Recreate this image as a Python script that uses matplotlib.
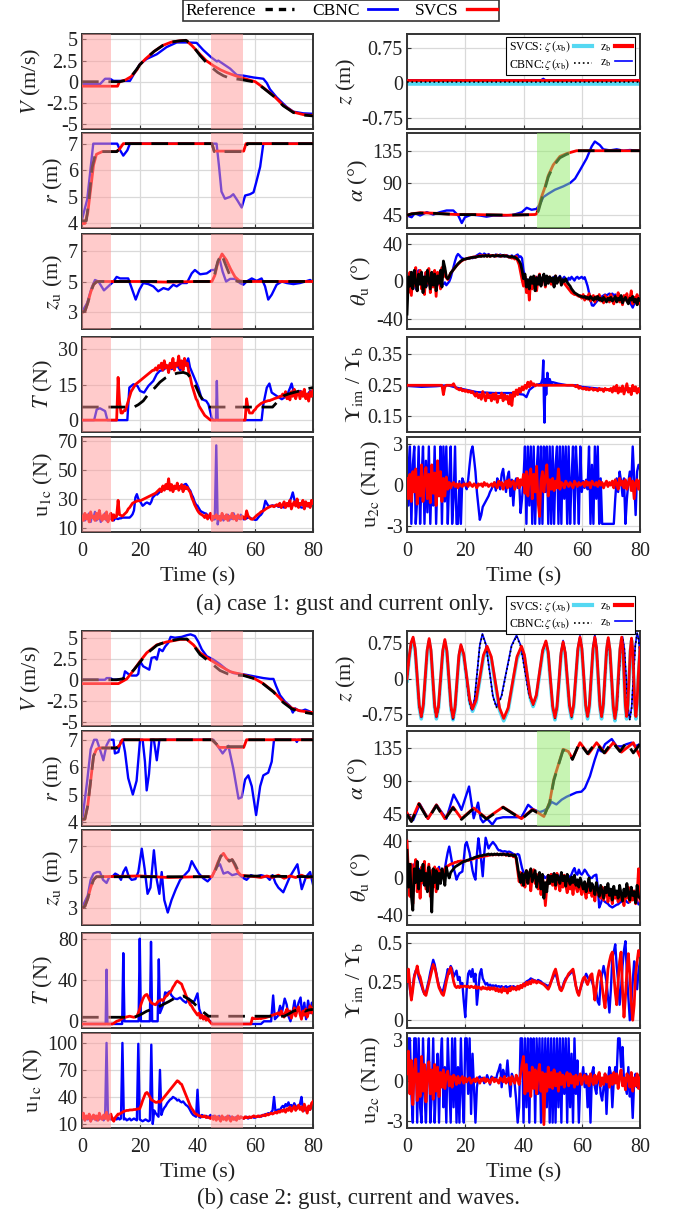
#!/usr/bin/env python3
import numpy as np
import matplotlib
matplotlib.use('Agg')
import matplotlib.pyplot as plt
from matplotlib.lines import Line2D
from matplotlib.ticker import FuncFormatter

plt.rcParams['font.family'] = ['Liberation Serif', 'DejaVu Serif']
plt.rcParams['mathtext.fontset'] = 'stix'
plt.rcParams['axes.unicode_minus'] = False

# Values. Knot series are (time, value) pairs,
# noisy series are sampled every 0.5 s starting at t = 0.

# ================= case 1: gust and current only =================
Va_ref = [(0, 0.0), (13, 0.0), (15, 0.15), (17, 0.6), (19, 1.5), (20, 2.0), (22, 2.7), (25, 3.6),
          (28, 4.3), (31, 4.7), (34, 4.85), (36, 4.9), (38, 4.4), (40.9, 3.1), (43, 2.3), (44.7, 1.75),
          (47, 1.1), (49, 0.7), (51.3, 0.4), (54, 0.3), (56, 0.2), (60, -0.05), (62.8, -0.75),
          (66.3, -1.7), (69.7, -2.85), (73.2, -3.65), (76.7, -3.95), (80, -4.05)]
Va_cbnc = [(0, -0.3), (6.2, -0.3), (8, 0.35), (9.7, 0.35), (10.9, 0.1), (16.6, 0.1), (17.8, 0.8),
           (20.1, 2.1), (22.4, 2.7), (25.9, 3.25), (29.3, 4.1), (32.8, 4.65), (36.3, 4.65), (39.7, 4.6),
           (42, 3.75), (44.7, 2.9), (46.7, 2.4), (47.2, 2.5), (51.3, 1.55), (53.6, 0.8), (55.9, 0.72),
           (59.4, 0.5), (62.8, 0.35), (64, -0.15), (65.1, -0.9), (67.4, -1.85), (70.9, -3.0),
           (73.2, -3.55), (76.7, -3.75), (80, -3.8)]
Va_svcs = [(0, -0.53), (12.3, -0.53), (13, 0.0), (15, 0.2), (17, 0.6), (19, 1.4), (20, 2.0), (22, 2.7),
           (25, 3.6), (28, 4.3), (31, 4.7), (34, 4.85), (36, 4.9), (38, 4.3), (41, 3.2), (43, 2.5),
           (45.5, 1.9), (48, 1.4), (50, 1.1), (52.4, 0.8), (55.3, 0.45), (58, 0.2), (60, 0.0),
           (62.8, -0.7), (66.3, -1.65), (69.7, -2.8), (73.2, -3.6), (76.7, -3.9), (80, -4.0)]

ra_ref = [(0, 4.1), (1.5, 4.1), (2.5, 5.0), (3.5, 6.1), (4.5, 6.55), (6, 6.7), (12, 6.7), (13, 6.8),
          (14.3, 7.0), (45, 7.0), (45.8, 6.7), (56.3, 6.7), (57.3, 7.0), (80, 7.0)]
ra_cbnc = [(0, 4.15), (1.8, 4.9), (2.8, 5.9), (3.9, 7.0), (12.2, 7.0), (13.2, 6.75), (14.3, 6.55),
           (15.7, 6.75), (16.6, 7.0), (46.6, 7.0), (47.4, 6.2), (48.3, 5.2), (49.5, 4.93), (51.3, 5.0),
           (52.4, 5.1), (53.8, 4.87), (55.3, 4.6), (56.5, 5.05), (58.2, 5.1), (59.4, 5.17), (60.3, 5.53),
           (61.7, 6.13), (62.8, 7.0), (80, 7.0)]
ra_svcs = [(0, 4.0), (1, 4.0), (2, 4.4), (3, 5.3), (4, 6.2), (5, 6.6), (7, 6.7), (12, 6.7), (13, 6.8),
           (14.3, 7.0), (45, 7.0), (45.8, 6.72), (56, 6.72), (56.8, 7.0), (80, 7.0)]

zua_ref = [(0, 3.0), (1, 3.05), (2, 3.6), (3, 4.3), (4, 4.8), (5, 4.98), (6, 5.0), (45, 5.0), (46, 5.5),
           (47, 6.3), (48.3, 6.8), (49.5, 6.2), (51, 5.5), (52.5, 5.1), (54, 5.0), (80, 5.0)]
zua_cbnc = [(0, 3.0), (1.8, 3.6), (3.3, 4.57), (4.5, 5.1), (5.7, 5.0), (7.6, 4.42), (9.1, 4.68),
            (10.9, 5.0), (12, 5.3), (13.2, 5.2), (14.5, 5.2), (16, 5.2), (17.2, 4.57), (18.6, 3.82),
            (19.9, 4.47), (21.2, 4.9), (23, 4.83), (24.7, 4.68), (26.4, 4.36), (28.2, 4.57), (29.9, 4.47),
            (31.6, 4.79), (32.8, 4.68), (34.5, 4.9), (36.3, 4.9), (38, 5.53), (39.1, 5.75), (40.9, 5.47),
            (43.2, 5.53), (44.9, 5.75), (46.1, 5.75), (47.6, 6.5), (48.7, 5.64), (49.9, 5.0), (51.3, 5.17),
            (53, 5.17), (54.7, 4.9), (55.9, 4.79), (57, 5.0), (58.8, 5.2), (60.5, 5.04), (62.2, 5.2),
            (63.4, 4.68), (64.5, 3.82), (65.7, 4.14), (67.4, 4.79), (69.2, 5.0), (70.9, 4.9), (73.2, 4.83),
            (75.5, 4.9), (77.3, 5.0), (79, 5.1), (80, 4.96)]
zua_svcs = [(0, 3.0), (1, 3.05), (2, 3.6), (3, 4.3), (4, 4.8), (5, 4.98), (6, 5.0), (20, 5.0), (30, 4.96),
            (40, 5.0), (45, 5.0), (46, 5.4), (47, 6.2), (48.5, 6.8), (50, 6.4), (51.5, 5.8), (53, 5.3),
            (54.5, 5.05), (56, 5.0), (80, 5.0)]

Ta_ref = [(0, 5.5), (18, 5.5), (19.5, 6.5), (21.2, 8.1), (23, 11), (25.3, 13.7), (27, 16), (28.8, 17.7),
          (31, 19), (33, 19.8), (35.1, 20.1), (36.5, 19.5), (38, 17.3), (39.5, 14), (40.9, 10.2),
          (42.5, 7.5), (43.8, 5.5), (66, 5.5), (67.5, 7.5), (69.7, 10.2), (71.5, 11), (73.2, 11.6),
          (76, 12.5), (78, 13.2), (80, 13.7)]
Ta_cbnc = [(0, 0), (4.2, 0), (5.1, 4.5), (6.2, 5), (8, 3.8), (8.8, 0), (15.7, 0), (16.4, 13.7),
           (17.8, 15.1), (19.2, 14.4), (20.1, 12.3), (21.5, 11.6), (23, 14.4), (24.7, 16.5), (25.9, 19.4),
           (27, 20.8), (28, 21), (29, 22), (30, 23), (31, 21.5), (32, 22), (33, 23), (34, 21), (35, 22),
           (36, 24), (36.8, 26), (37.4, 22.2), (38.6, 18.7), (40.3, 13.7), (41.5, 8.8), (43, 8.1),
           (43.8, 6.6), (44.9, 1), (45.5, 0), (46.4, 0), (46.7, 16.5), (47, 0), (62.2, 0), (62.8, 6.6),
           (64, 13.7), (64.9, 15.4), (65.7, 11.6), (67.4, 10.2), (69.2, 8.8), (70.9, 10.2), (72.1, 13.7),
           (72.6, 15.4), (73.2, 12.3), (74.4, 10.9), (75.5, 12.3), (76.7, 10.9), (77.8, 10.2),
           (79, 12.3), (80, 11.6)]
Ta_svcs = [0] * 20 + [
    0, 0, 0, 0, 0, 18, 8, 3, 3, 4, 4, 6, 8, 10, 12, 13, 14, 15, 15.5, 16,
    16.5, 17, 17.5, 18, 18.5, 19, 19.5, 20, 20.5, 21, 21, 22, 21, 23, 22, 24, 21, 25, 22, 23,
    20, 24, 22, 26, 21, 24, 23, 27, 22, 25, 21, 26, 23, 24, 20, 18, 15, 13, 11, 9,
    8, 6, 5, 4, 3, 2, 1.5, 1, 0.5, 0, 0, 0, 0, 0, 0, 0, 0, 0, 0, 0,
    0, 0, 0, 0, 0, 0, 0, 0, 0, 0, 0, 0, 0, 0, 9, 5, 3, 3, 3, 4,
    4.5, 5.5, 6, 6.5, 7, 7.3, 7.6, 7.8, 8, 8.2, 8.2, 8.5, 8.7, 9, 9.2, 9.4, 9.6, 10, 10, 11,
    10, 12, 9, 11, 8.5, 12, 10, 13, 9, 11, 12, 9, 12, 10, 13, 9, 11, 8, 12, 10,
    13]

u1ca_cbnc = [
    17, 19, 15, 18, 16, 20, 14, 18, 17, 21, 15, 17, 19, 14, 18, 16, 20, 15, 18, 17,
    16, 19, 15, 17, 16.3, 16, 16.5, 16.5, 17, 17, 17, 17, 17, 17, 18, 19.3, 22, 31, 33.3, 30,
    28.7, 27, 25.2, 26, 27, 27.5, 27, 26.3, 28, 31, 32, 33.3, 33, 34, 35, 36, 37, 36.5, 37, 38,
    37, 36.9, 38, 37, 38, 37.5, 38, 39, 38, 37, 39, 40, 40.4, 39, 37, 35.7, 33, 31, 28, 26,
    25.2, 23.5, 21.7, 21, 20.5, 20, 19.8, 18.5, 17, 17.5, 16, 15.8, 15.8, 67.2, 12.3, 18, 16, 19, 15, 18,
    17, 19, 15, 18, 16, 20, 17, 15, 18, 16, 19, 17, 15.8, 16, 16.5, 17, 17, 16.5, 16, 15.8,
    15.4, 15.6, 17, 18.2, 19, 20.5, 24, 28.7, 27, 25.2, 25, 25.2, 25.5, 25.2, 25, 25.5, 24.5, 24.8, 24, 24.5,
    24, 24.5, 25, 26, 28.7, 31, 34.5, 30, 26.3, 25, 24.5, 24.5, 24, 24, 24.5, 25, 25.2, 24.8, 25.2, 26.5,
    27.5]
u1ca_svcs = [
    18, 15, 20, 16, 19, 14, 21, 17, 18, 15, 20, 16, 22, 17, 15, 19, 16, 21, 14, 18,
    20, 15, 19, 17, 18, 29, 19, 18.5, 18, 19, 20, 21, 23, 24, 25.5, 27, 27.5, 28, 28.5, 28.7,
    28.7, 29, 29.5, 30, 30.5, 31, 31.5, 32, 32.5, 33, 33.5, 34, 35, 36, 37, 35, 39, 36, 40, 37,
    44, 36, 40, 35, 39, 37, 41, 36, 38, 40, 35, 39, 37, 38, 36, 34.5, 31, 28.7, 26, 24,
    22, 20.5, 19.5, 19, 18.2, 17, 19, 16, 18, 20, 15, 18, 17, 19, 16, 18, 15, 20, 17, 16,
    19, 15, 18, 17, 20, 16, 18, 15, 19, 17, 16, 18, 17, 16, 21.7, 18.2, 17, 16, 15.8, 16.5,
    17.5, 18.5, 19.3, 20, 21, 21.5, 22, 22.8, 23.5, 24, 24.5, 25, 25.2, 24.5, 25.5, 26, 25, 27, 24, 26,
    28, 24, 27, 25, 29, 23, 26, 28, 25, 30, 24, 27, 26, 29, 23, 28, 25, 27, 24, 29,
    27]

za_zeta_svcs = [(0, 0.0), (80, 0.0)]
za_zb_svcs = [(0, 0.07), (80, 0.07)]
za_zeta_cbnc = [(0, 0.02), (80, 0.02)]
za_zb_cbnc = [(0, 0.07), (46, 0.07), (46.8, 0.1), (47.5, 0.07), (80, 0.07)]

alpha_a_ref = [(0, 44), (1.6, 46), (4.5, 47), (10.2, 46.5), (17, 45), (22.8, 44.8), (34.2, 44.2),
               (43.9, 44.8), (44.5, 45.5), (45.1, 50), (46.2, 66), (47.4, 82), (48.5, 98), (50.2, 113),
               (52.5, 125), (54.8, 130), (56.5, 132), (58.2, 135), (80, 135)]
alpha_a_svcs = [(0, 44), (1.6, 46), (4.5, 47.6), (10.2, 46.7), (17, 45), (22.8, 45), (34.2, 44),
                (43.9, 45), (44.5, 46), (45.1, 53), (46.2, 70), (47.4, 84), (48.5, 100), (50.2, 115),
                (52.5, 127), (54.8, 131), (56.5, 133), (58.2, 135), (80, 135)]
alpha_a_cbnc = [(0, 43.6), (1.6, 41.2), (2.7, 47), (4.5, 43.6), (6.8, 48.3), (9, 45), (11.3, 48.3),
                (13.6, 50.7), (15.9, 50.7), (17.6, 43.6), (18.8, 33), (19.9, 41.2), (22.2, 45),
                (25.1, 43.6), (27.3, 42), (29.6, 43.6), (33.1, 43.6), (36.5, 44.5), (39.4, 48.3),
                (41.1, 54.5), (42.8, 51.7), (44.5, 53), (45.7, 60), (46.8, 69.6), (48.5, 74.3), (50.8, 80),
                (53.7, 84.8), (56, 89.5), (57.7, 95.7), (59.4, 107.6), (61.7, 124.3), (63.4, 141),
                (64.5, 148), (66.2, 143), (67.4, 137), (69.7, 135.5), (72, 137), (74.3, 135), (76.5, 136),
                (80, 135)]

tha_ref = [
    -35, 5, -5, 10, -8, 12, 0, -10, 8, -3, 10, -12, 5, -6, 12, 2, -8, 10, -4, 8,
    -10, 6, -2, 12, -6, 22, 15, 5, 3, 5, 9, 11, 13, 15, 17, 19, 20.5, 22, 23, 24,
    24, 24.5, 25, 25, 25.5, 26, 26, 26, 26.5, 27, 27, 27, 27.5, 27, 28, 27, 28, 27, 27.5, 28,
    27, 28, 27.5, 28, 27, 27.5, 28, 27, 27.5, 27, 26.5, 26, 27, 26, 26, 25, 24, 22, 19, 12,
    3, 8, -6, 2, -8, 5, -2, 6, -10, 4, -3, 7, -5, 3, 8, -4, 6, -2, 5, 0,
    4, -6, 6, -2, 3, 5, -4, 2, 0, 3, -1, -3, -5, -8, -10, -12, -13, -14, -15, -16,
    -16, -17, -16, -18, -17, -19, -16, -18, -20, -17, -19, -16, -20, -18, -21, -17, -19, -22, -18, -20,
    -17, -21, -19, -16, -22, -18, -20, -15, -23, -19, -17, -21, -24, -18, -20, -16, -22, -19, -25, -18,
    -20]
tha_svcs = [
    2, -12, 10, -15, 8, -5, 15, -10, 5, 12, -8, 3, -14, 10, -2, 14, -12, 6, -6, 12,
    -16, 10, 4, -8, 15, 5, 12, 4, 2, 6, 9, 11, 13, 15, 17, 18.5, 20, 21.5, 22.5, 23.5,
    24, 24.5, 25, 25.5, 25.5, 26, 26.5, 26, 27, 27, 28, 27, 28, 27.5, 28, 27, 28.5, 27, 28, 27.5,
    28, 27, 28.5, 27.5, 28, 27, 28, 27.5, 28, 27, 26, 27, 25, 26, 24, 27, 22, 18, 10, 2,
    -5, 6, -12, 0, -20, 4, -8, 2, 5, -10, 3, 8, -4, 2, 6, -6, 3, 0, 5, -3,
    3, -5, 6, -1, 2, 4, -3, 1, -2, -4, -6, -8, -10, -12, -13, -14, -14, -15, -16, -15,
    -18, -14, -20, -16, -19, -13, -21, -17, -15, -22, -16, -19, -14, -21, -18, -23, -15, -20, -17, -22,
    -14, -20, -24, -16, -19, -12, -22, -18, -25, -15, -20, -13, -23, -19, -10, -24, -17, -21, -14, -24,
    -18]
tha_cbnc = [
    0, 8, -5, 10, -3, 6, -8, 5, 12, -2, 8, -6, 4, 10, -4, 6, -2, 8, -5, 3,
    6, -4, 2, 0, -2, -3, -1, -4, -2, 0, 4, 10, 16, 22, 27, 29.5, 28, 26, 25, 24,
    24, 25, 24.5, 25, 26, 25, 26, 27, 28, 29, 30, 29, 28, 30, 29, 28, 29.5, 28, 27.5, 28,
    27, 29, 28, 27, 29, 28, 27, 28.5, 27, 28, 26, 27, 28, 26, 27, 28, 29, 26, 27, 25,
    12, 5, 0, 2, -3, 4, 1, 3, -2, 5, 0, 2, 4, -1, 3, 5, 2, 0, 4, 1,
    3, 5, 0, 4, 2, 6, 1, 3, 5, 2, 0, 4, 2, 5, 3, 1, 4, 5, 3, 4,
    5, 3, 4.6, 0, -5, -12, -20, -25.6, -26, -24, -22, -20, -18, -17, -16, -15, -14, -15, -14, -13,
    -14, -13, -15, -14, -16, -15, -17, -16, -18, -17, -19, -20, -18, -22, -25, -28, -24, -22, -20, -19,
    -18]

ya_svcs = [0.25] * 20 + [
    0.25, 0.25, 0.25, 0.25, 0.25, 0.22, 0.245, 0.25, 0.25, 0.25, 0.25, 0.25, 0.255, 0.245, 0.24, 0.238, 0.235, 0.24, 0.232, 0.235,
    0.23, 0.234, 0.228, 0.232, 0.226, 0.23, 0.222, 0.215, 0.225, 0.21, 0.22, 0.205, 0.23, 0.215, 0.2, 0.225, 0.21, 0.218, 0.2, 0.222,
    0.205, 0.225, 0.195, 0.215, 0.21, 0.225, 0.2, 0.22, 0.205, 0.215, 0.19, 0.22, 0.185, 0.228, 0.215, 0.235, 0.22, 0.24, 0.228, 0.245,
    0.235, 0.25, 0.24, 0.26, 0.245, 0.262, 0.25, 0.255, 0.248, 0.252, 0.25, 0.25, 0.25, 0.25, 0.25, 0.25, 0.25, 0.25, 0.25, 0.25,
    0.25, 0.25, 0.25, 0.25, 0.25, 0.25, 0.25, 0.25, 0.25, 0.25, 0.25, 0.25, 0.25, 0.25, 0.25, 0.248, 0.245, 0.25, 0.24, 0.245,
    0.24, 0.238, 0.242, 0.236, 0.24, 0.235, 0.238, 0.24, 0.234, 0.238, 0.236, 0.232, 0.24, 0.235, 0.238, 0.23, 0.24, 0.235, 0.237, 0.233,
    0.24, 0.228, 0.245, 0.232, 0.25, 0.225, 0.242, 0.23, 0.248, 0.222, 0.238, 0.255, 0.228, 0.24, 0.22, 0.25, 0.232, 0.245, 0.225, 0.24,
    0.23]
ya_cbnc = [(0, 0.248), (5, 0.245), (10, 0.247), (14, 0.25), (18, 0.24), (24, 0.228), (30, 0.225),
           (36, 0.225), (40, 0.22), (41, 0.212), (42, 0.235), (44, 0.25), (46, 0.255), (46.5, 0.27),
           (46.8, 0.33), (47.0, 0.2), (47.2, 0.13), (47.5, 0.27), (47.8, 0.22), (48.2, 0.29), (48.6, 0.25),
           (49.0, 0.27), (49.5, 0.255), (50, 0.26), (52, 0.255), (55, 0.25), (58, 0.25), (60, 0.245),
           (65, 0.24), (70, 0.235), (75, 0.235), (80, 0.235)]

u2a_cbnc = [
    2.85, -1.5, 2.85, -2.85, 1.5, 2.85, -2.85, -1, 2.85, -2.85, 0.5, 2.85, -2.85, 1.8, -2, 2.85, -2.85, 0.8, -1.5, 2.85,
    -2.85, 1, -0.5, 2.85, -2.85, 2.85, -1.2, 2.85, -2.85, 0.5, 2.85, -2.85, -1, 2.85, -2.85, -2.85, 0.3, -2.85, 0.5, 0.2,
    0, -0.3, 0.4, 1.5, 2.5, 2.85, 2.0, 1.0, -0.5, -1.5, -2.55, -2.2, -1.6, -1.4, -1.2, -1.0, -0.8, -0.5, -0.3, 0,
    0.2, -0.4, 0.5, 0.2, -0.3, 0.8, 1.2, 0.3, -0.5, 0.6, 1.0, -0.8, 0.4, -1.5, 0.2, 0.5, -0.2, 0.3, -2.05, -1.0,
    0.5, 2.85, -2.85, 2.85, -1.5, 2.85, -2.85, 2.85, -2.85, 1.0, 2.85, -2.85, 2.85, -2.85, 2.85, -0.5, 2.85, -2.85, 2.85, -2.85,
    2.85, -2.85, 1.5, 2.85, -2.85, 2.85, -2.85, 2.85, -1.0, 2.85, -2.85, 2.85, -2.85, 0.5, 2.85, -2.85, 2.85, 0.5, -2.85, 2.85,
    -0.5, 0.3, -0.2, 0.4, -0.3, 2.85, -2.85, 1.5, -2.85, 2.85, -1.0, 2.85, -2.85, 0.5, -2.85, -2.85, -2.85, -2.85, -2.85, -2.85,
    -2.85, -2.85, -2.85, -1.0, 0.5, -0.5, 1.0, 0.3, -0.8, 0.5, -2.85, -1.0, 0.2, 1.0, 0.0, 2.85, 0.5, -2.2, 1.0, 1.5,
    1.2]
u2a_svcs = [
    0.5, -1.0, 0.8, -1.2, 1.0, -0.5, 1.2, -1.4, 0.6, -0.8, 1.5, -1.2, 0.4, 1.3, -1.0, 0.8, -1.3, 1.5, -0.6, 0.9,
    -1.5, 1.8, -0.8, 1.0, -1.2, 0.5, -0.8, 0.6, -0.3, 0.2, -0.2, 0.1, 0.2, -0.1, 0.1, -0.2, 0.1, 0.0, -0.1, 0.1,
    0.0, 0.1, -0.1, 0.2, 0.0, -0.1, 0.1, 0.0, -0.2, 0.1, 0.0, 0.1, -0.1, 0.2, 0.0, 0.1, -0.1, 0.0, 0.1, -0.1,
    0.2, 0.0, -0.2, 0.3, 0.0, 0.2, -0.3, 0.1, 0.3, -0.2, 0.4, -0.1, 0.2, 0.3, -0.3, 0.1, 0.5, -0.2, 0.4, 0.0,
    0.8, -0.6, 1.0, -0.8, 0.6, 1.2, -1.0, 0.8, -0.5, 1.4, -1.2, -2.3, 0.3, 1.0, -0.5, 0.6, 1.5, -0.8, 0.4, -0.3,
    0.5, -0.4, 0.3, -0.2, 1.2, -0.3, 0.2, 0.1, -0.2, 0.3, 0.1, -0.1, 0.2, 0.0, -0.2, 0.3, 0.1, -0.1, 0.2, 0.0,
    0.1, 0.2, -0.1, 0.3, 0.0, 0.2, -0.2, 0.3, 0.1, 0.0, 0.2, -0.1, 0.3, 0.0, 0.2, -0.2, 0.1, 0.3, -0.1, 0.2,
    0.0, 0.3, -0.2, 0.4, 0.1, -0.3, 0.5, 0.0, 0.3, -0.2, 0.4, -0.3, 0.2, 0.5, -0.4, 0.3, -1.0, 0.2, 0.4, -0.3,
    0.3]

# ================= case 2: gust, current and waves =================
Vb_ref = [(0, 0.0), (12, 0.0), (14, 0.1), (16, 0.5), (18, 1.2), (20.1, 2.1), (22.4, 3.1), (25.9, 4.1),
          (29.3, 4.55), (34, 4.85), (36.3, 4.85), (38.6, 4.1), (40.9, 3.0), (44.3, 2.1), (47.8, 1.1),
          (50.5, 0.7), (53, 0.55), (56, 0.5), (60, 0.1), (62.8, -0.5), (66.3, -1.45), (69.7, -2.7),
          (72.6, -3.45), (75.5, -3.8), (80, -4.05)]
Vb_cbnc = [(0, 0), (8, 0), (8.5, 0.2), (9.7, 0.2), (10.9, 0), (14.3, 0.1), (14.9, 1.0), (16, 0.7),
           (17.2, 0.5), (18.9, 0.5), (19.5, 0.7), (20.1, 2.2), (21.2, 1.6), (23.3, 1.2), (24.1, 2.6),
           (25.3, 2.7), (25.9, 2.4), (26.8, 3.65), (27.9, 3.4), (28.8, 3.95), (29.9, 4.4), (30.7, 5.1),
           (32.2, 5.0), (34.5, 5.1), (36.3, 5.3), (37.6, 5.4), (39.1, 5.2), (40.3, 4.5), (41.5, 3.6),
           (43.2, 2.8), (45.5, 2.4), (47.8, 1.85), (50.1, 1.2), (52.4, 0.8), (54.7, 0.7), (57, 0.58),
           (59.4, 0.42), (62.8, 0.2), (65.1, 0.1), (66.3, 0.1), (67.2, -0.73), (68.6, -1.85), (70.3, -2.6),
           (72.1, -3.15), (73, -3.9), (73.8, -3.4), (74.9, -3.65), (76.1, -3.7), (77.3, -3.55),
           (78.4, -3.7), (79.6, -3.9), (80, -4.0)]
Vb_svcs = [(0, -0.46), (12.6, -0.46), (15.5, 0.1), (17.8, 1.1), (20.1, 2.2), (22.4, 3.2), (25.9, 4.15),
           (29.3, 4.5), (34, 4.8), (36.3, 4.8), (38.6, 4.15), (40.9, 3.2), (44.3, 2.4), (47.8, 1.65),
           (51.3, 0.96), (55.9, 0.58), (59.4, 0.2), (62.8, -0.46), (66.3, -1.4), (69.7, -2.6),
           (72.6, -3.35), (75.5, -3.7), (80, -3.9)]

rb_ref = [(0, 4.1), (1, 4.1), (2, 4.6), (3, 5.5), (4, 6.4), (5, 6.65), (6, 6.7), (12, 6.7), (13, 6.8),
          (14, 7.0), (45, 7.0), (46.5, 6.85), (48, 6.75), (56, 6.75), (57, 7.0), (80, 7.0)]
rb_cbnc = [(0, 4.0), (1.8, 5.5), (3, 6.65), (4.2, 7), (5.1, 7), (6.2, 6.65), (7.4, 6.25), (8.5, 6.8),
           (9.5, 7), (10.9, 7), (11.4, 6.5), (12.6, 6.55), (13.4, 6.95), (14.1, 7), (14.9, 6.55), (16, 5.6),
           (17.6, 5.0), (18.9, 5.5), (20.1, 7), (21, 7), (21.8, 6.2), (22.4, 5.15), (23.2, 5.75), (24.1, 7),
           (24.9, 7), (25.9, 6.25), (26.8, 7), (45.5, 7), (48.7, 6.5), (50.7, 6.78), (52.4, 5.95),
           (54.2, 4.85), (55.3, 4.9), (56.5, 5.55), (57.6, 5.7), (58.8, 5.3), (60.3, 4.25), (61.7, 5.3),
           (62.8, 5.7), (64.5, 5.8), (65.7, 6.2), (66.5, 7), (74, 7), (74.4, 6.92), (74.8, 7), (80, 7)]
rb_svcs = [(0, 4.1), (1, 4.1), (2, 4.6), (3, 5.5), (4, 6.4), (5, 6.65), (6, 6.7), (12, 6.7), (13, 6.8),
           (14, 7.0), (45, 7.0), (46, 6.9), (47.5, 6.72), (56, 6.72), (57, 7.0), (80, 7.0)]

zub_ref = [(0, 3.0), (1, 3.1), (2, 3.6), (3, 4.3), (4, 4.8), (5, 5.0), (6, 5.0), (45, 5.0), (46, 5.3),
           (47, 5.8), (48, 6.3), (49, 6.5), (50, 6.3), (51, 6.0), (52, 6.1), (53, 5.8), (54, 5.4),
           (55, 5.15), (56, 5.05), (80, 5.0)]
zub_cbnc = [(0, 3.0), (2, 3.8), (3, 4.8), (4, 5.2), (5.2, 5.3), (6.2, 5.3), (7.3, 4.8), (8.5, 4.6),
            (9.5, 5.0), (10.5, 5.0), (11.5, 5.2), (12.5, 5.1), (13.5, 4.8), (14.3, 5.3), (15.2, 5.6),
            (16.2, 5.0), (17.2, 4.8), (18.5, 4.85), (19.5, 5.3), (20.7, 6.8), (21.7, 5.5), (22.7, 3.9),
            (23.7, 4.3), (24.9, 6.7), (25.9, 4.8), (26.8, 3.9), (27.6, 5.3), (28.5, 3.5), (29.7, 2.7),
            (31, 3.5), (32.5, 4.2), (34, 4.8), (35.5, 5.1), (37, 5.4), (38, 6.0), (39.2, 5.6), (40.5, 5.2),
            (42, 4.9), (43.5, 4.7), (45, 5.0), (46.5, 5.6), (47.8, 5.8), (49, 5.2), (50.5, 5.3), (52, 5.1),
            (54, 5.2), (56, 4.9), (57, 4.8), (58.5, 5.1), (60, 5.0), (62, 5.1), (64, 5.0), (65, 4.8),
            (66, 5.1), (67, 4.6), (68, 4.3), (69.7, 4.0), (72, 5.0), (74.6, 5.8), (76.1, 4.2), (77.6, 5.0),
            (79, 5.3), (80, 4.5)]
zub_svcs = [(0, 3.0), (1, 3.1), (2, 3.6), (3, 4.3), (4, 4.8), (5, 5.0), (6, 5.0), (20, 5.05), (30, 4.95),
            (40, 5.0), (45, 5.0), (46, 5.4), (47, 5.9), (48, 6.3), (49, 6.5), (50, 6.2), (51, 6.0),
            (52, 6.1), (53, 5.7), (54, 5.3), (55, 5.1), (57, 5.05), (60, 5.0), (62, 4.95), (64, 5.05),
            (66, 4.95), (68, 5.1), (70, 4.9), (72, 5.05), (74, 4.95), (76, 5.1), (78, 4.95), (80, 5.0)]

Tb_ref = [(0, 3.9), (18, 3.9), (20, 6), (22.4, 9.8), (24.5, 12), (27, 14.7), (30, 19), (32.8, 23.5),
          (35.1, 24.5), (38, 19.6), (40.9, 11.4), (43.8, 4.9), (70, 4.9), (71.5, 7), (73.2, 9.8),
          (74.5, 11), (76.1, 12.4), (77.3, 9.8), (78.5, 11), (80, 11.5)]
Tb_cbnc = [(0, -2.6), (8.2, -2.6), (8.5, 50), (8.8, -2.6), (13.9, -2.6), (14.3, 66), (14.7, 0), (19.6, 0),
           (20.0, 80), (20.4, 0), (23.5, 0), (23.9, 77), (24.3, 0), (26.2, 0), (26.6, 60), (27.0, 8),
           (28.0, 15), (28.8, 28), (29.5, 27), (30.3, 29), (31.0, 25), (32.0, 22), (33.0, 21.5), (34.0, 23),
           (35.0, 20), (36.0, 18), (37.0, 22), (38.0, 18), (39.0, 20), (40.0, 27), (40.6, 12), (41.5, 5),
           (42.5, 3), (43.5, 2), (44.5, 0), (45.0, -2.6), (62.0, -2.6), (63.0, 0), (65.5, 0), (66.2, 25),
           (66.8, 2), (67.8, 5), (68.6, 15), (69.3, 9), (70.2, 22), (70.9, 16), (71.5, 5), (72.2, 0),
           (73.0, 10), (73.6, 20), (74.2, 8), (75.0, 18), (75.7, 23), (76.3, 5), (77.0, 18), (77.6, 2),
           (78.3, 20), (79.0, 8), (79.6, 18), (80.0, 10)]
Tb_svcs = [-2.6] * 20 + [
    -2.6, -2.6, -2, -1, 0, 0.5, 1, 2, 3, 3.5, 3.9, 4.2, 4.5, 4.9, 4.5, 4.2, 3.9, 4.2, 4.9, 8,
    12, 17, 21, 24, 25.5, 26, 23, 20, 18, 17, 16.5, 16, 18, 19.5, 20, 21, 20, 22, 24, 25,
    27, 28, 30, 33, 35, 37.6, 39, 38, 37, 36, 32, 29, 25, 22, 19, 16, 14.7, 12, 10, 8,
    6, 8, 3, 6, 2, 5, 1, 4, 0.5, -1, -2.6, -2.6, -2.6, -2.6, -2.6, -2.6, -2.6, -2.6, -2.6, -2.6,
    -2.6, -2.6, -2.6, -2.6, -2.6, -2.6, -2.6, -2.6, -2.6, -2.6, -2.6, -2.6, -2.6, -2.6, -2.6, -2.6, -2.6, -2.6, 3.3, 2.6,
    2.6, 2.5, 2.6, 2.8, 2.6, 3, 3.2, 3.5, 3.9, 4.2, 4.8, 5.5, 5.9, 6.5, 7, 7.5, 8.2, 6, 10, 7,
    4, 9, 12, 6, 10, 3, 8, 13, 5, 11, 14, 7, 2, 10, 6, 12, 4, 9, 15, 8,
    12]

u1cb_cbnc = [
    16, 19, 14, 17, 15, 18, 13, 17, 16, 19, 14, 17, 15, 18, 16, 14, 17, 100, 15, 16,
    15, 17, 14, 16, 15, 17, 15, 16, 100, 15, 16, 14, 15, 16, 14, 15, 16, 15, 14, 99,
    15, 14, 13, 14, 15, 14, 13, 14, 98, 10, 25, 22, 20, 18, 70, 20, 25, 28, 30, 33,
    35, 37, 38, 40, 39, 38, 36, 37, 35, 34, 35, 33, 31, 30, 28, 25, 22, 20, 19, 18,
    48, 18, 17, 20, 19, 18, 19, 17, 18, 20, 17, 19, 16, 18, 17, 19, 15, 18, 17, 16,
    18, 17, 19, 16, 18, 17, 15, 18, 17, 16, 18, 17, 16, 17, 18, 16, 17, 17, 18, 17,
    17, 18, 18, 19, 18, 20, 19, 21, 20, 22, 21, 23, 25, 40, 24, 25, 26, 25, 28, 30,
    28, 32, 30, 34, 29, 31, 28, 33, 30, 27, 29, 32, 40, 27, 25, 28, 24, 27, 26, 30,
    31]
u1cb_svcs = [
    17, 22, 14, 19, 16, 21, 13, 18, 20, 15, 19, 14, 22, 17, 15, 20, 16, 23, 14, 18,
    21, 15, 13, 17, 19, 21, 21, 22, 23, 24, 24.5, 25, 25, 25.5, 25.5, 25.6, 26, 26, 26.5, 26.7,
    27, 31, 36, 40, 44, 45, 43, 40, 37, 36, 35, 34, 34, 35, 34, 36, 38, 40, 42, 44,
    46, 48, 50, 52, 54, 56, 58, 57, 55, 54, 50, 46, 42, 38, 34, 30, 27, 25, 22, 21,
    20, 19, 19, 18, 18, 19, 17, 18, 17, 16, 18, 15, 19, 14, 18, 16, 13, 19, 15, 17,
    14, 19, 16, 13, 18, 15, 17, 14, 19, 16, 18, 17, 16, 18, 17, 17, 18, 17, 18, 19,
    18, 18, 19, 18, 19, 19, 20, 19, 21, 20, 21, 22, 21, 22, 23, 22, 24, 23, 25, 24,
    26, 23, 27, 25, 29, 24, 27, 30, 25, 28, 31, 26, 29, 24, 32, 27, 22, 30, 26, 33,
    35]

# wave panel: (time, z_b, zeta(x_b))
wave_svcs_b = [
    (0, 0.0, -0.05), (0.7, 0.44, 0.39), (1.4, 0.75, 0.70), (2.1, 0.87, 0.82),
    (2.8, 0.63, 0.58), (3.5, 0.04, -0.01), (4.2, -0.56, -0.61), (4.9, -0.80, -0.85),
    (5.58, -0.56, -0.61), (6.25, 0.02, -0.03), (6.93, 0.60, 0.55), (7.6, 0.84, 0.79),
    (8.23, 0.60, 0.55), (8.85, 0.02, -0.03), (9.48, -0.56, -0.61), (10.1, -0.80, -0.85),
    (10.83, -0.57, -0.62), (11.55, 0.01, -0.04), (12.28, 0.59, 0.54), (13.0, 0.82, 0.77),
    (13.7, 0.58, 0.53), (14.4, 0.0, -0.05), (15.1, -0.58, -0.63), (15.8, -0.82, -0.87),
    (16.48, -0.60, -0.65), (17.15, -0.06, -0.11), (17.83, 0.49, 0.44), (18.5, 0.71, 0.66),
    (19.5, 0.51, 0.46), (20.5, 0.04, -0.01), (21.5, -0.44, -0.49), (22.5, -0.64, -0.69),
    (23.75, -0.45, -0.50), (25.0, 0.02, -0.03), (26.25, 0.49, 0.44), (27.5, 0.68, 0.63),
    (28.93, 0.46, 0.41), (30.35, -0.08, -0.13), (31.78, -0.62, -0.67), (33.2, -0.84, -0.89),
    (34.73, -0.62, -0.67), (36.25, -0.08, -0.13), (37.78, 0.46, 0.41), (39.3, 0.68, 0.63),
    (40.3, 0.50, 0.45), (41.3, 0.07, 0.02), (42.3, -0.36, -0.41), (43.3, -0.54, -0.59),
    (44.4, -0.35, -0.40), (45.5, 0.13, 0.08), (46.6, 0.60, 0.55), (47.7, 0.79, 0.74),
    (48.48, 0.56, 0.51), (49.25, -0.02, -0.07), (50.03, -0.59, -0.64), (50.8, -0.82, -0.87),
    (51.5, -0.59, -0.64), (52.2, -0.03, -0.08), (52.9, 0.54, 0.49), (53.6, 0.77, 0.72),
    (54.33, 0.54, 0.49), (55.05, -0.01, -0.06), (55.78, -0.56, -0.61), (56.5, -0.79, -0.84),
    (57.23, -0.55, -0.60), (57.95, 0.04, -0.01), (58.68, 0.63, 0.58), (59.4, 0.87, 0.82),
    (60.05, 0.63, 0.58), (60.7, 0.04, -0.01), (61.35, -0.56, -0.61), (62.0, -0.80, -0.85),
    (62.63, -0.56, -0.61), (63.25, 0.04, -0.01), (63.88, 0.63, 0.58), (64.5, 0.87, 0.82),
    (65.08, 0.63, 0.58), (65.65, 0.04, -0.01), (66.23, -0.56, -0.61), (66.8, -0.80, -0.85),
    (67.38, -0.56, -0.61), (67.95, 0.03, -0.02), (68.53, 0.62, 0.57), (69.1, 0.86, 0.81),
    (69.68, 0.61, 0.56), (70.25, 0.01, -0.04), (70.83, -0.59, -0.64), (71.4, -0.84, -0.89),
    (71.98, -0.59, -0.64), (72.55, 0.02, -0.03), (73.13, 0.62, 0.57), (73.7, 0.87, 0.82),
    (74.13, 0.63, 0.58), (74.55, 0.04, -0.01), (74.98, -0.56, -0.61), (75.4, -0.80, -0.85),
    (75.83, -0.56, -0.61), (76.25, 0.03, -0.02), (76.68, 0.61, 0.56), (77.1, 0.85, 0.80),
    (77.48, 0.61, 0.56), (77.85, 0.03, -0.02), (78.23, -0.56, -0.61), (78.6, -0.80, -0.85),
    (79.0, -0.50, -0.55), (79.4, 0.05, 0.0), (80.0, 0.65, 0.60)]
wave_cbnc_b = [
    (0, 0.0, -0.02), (0.7, 0.44, 0.42), (1.4, 0.75, 0.73), (2.1, 0.87, 0.85),
    (2.8, 0.62, 0.60), (3.5, 0.03, 0.01), (4.2, -0.57, -0.59), (4.9, -0.82, -0.84),
    (5.58, -0.58, -0.60), (6.25, 0.01, -0.01), (6.93, 0.60, 0.58), (7.6, 0.84, 0.82),
    (8.23, 0.60, 0.58), (8.85, 0.01, -0.01), (9.48, -0.58, -0.60), (10.1, -0.82, -0.84),
    (10.83, -0.58, -0.60), (11.55, 0.0, -0.02), (12.28, 0.58, 0.56), (13.0, 0.82, 0.80),
    (13.7, 0.58, 0.56), (14.4, -0.02, -0.04), (15.1, -0.62, -0.64), (15.8, -0.86, -0.88),
    (16.48, -0.63, -0.65), (17.15, -0.07, -0.09), (17.83, 0.49, 0.47), (18.5, 0.72, 0.70),
    (19.45, 0.52, 0.50), (20.4, 0.03, 0.01), (21.35, -0.46, -0.48), (22.3, -0.66, -0.68),
    (23.2, -0.43, -0.45), (24.1, 0.14, 0.12), (25.0, 0.71, 0.69), (25.9, 0.94, 0.92),
    (27.1, 0.72, 0.70), (28.3, 0.18, 0.16), (29.5, -0.37, -0.39), (30.7, -0.59, -0.61),
    (32.43, -0.37, -0.39), (34.15, 0.16, 0.14), (35.88, 0.69, 0.67), (37.6, 0.91, 0.89),
    (39.03, 0.70, 0.68), (40.45, 0.19, 0.17), (41.88, -0.33, -0.35), (43.3, -0.54, -0.56),
    (44.4, -0.35, -0.37), (45.5, 0.13, 0.11), (46.6, 0.60, 0.58), (47.7, 0.79, 0.77),
    (48.48, 0.56, 0.54), (49.25, -0.02, -0.04), (50.03, -0.59, -0.61), (50.8, -0.82, -0.84),
    (51.5, -0.59, -0.61), (52.2, -0.01, -0.03), (52.9, 0.57, 0.55), (53.6, 0.80, 0.78),
    (54.33, 0.57, 0.55), (55.05, 0.0, -0.02), (55.78, -0.57, -0.59), (56.5, -0.80, -0.82),
    (57.23, -0.55, -0.57), (57.95, 0.05, 0.03), (58.68, 0.65, 0.63), (59.4, 0.90, 0.88),
    (60.05, 0.65, 0.63), (60.7, 0.05, 0.03), (61.35, -0.55, -0.57), (62.0, -0.80, -0.82),
    (62.63, -0.55, -0.57), (63.25, 0.06, 0.04), (63.88, 0.67, 0.65), (64.5, 0.92, 0.90),
    (65.08, 0.67, 0.65), (65.65, 0.06, 0.04), (66.23, -0.55, -0.57), (66.8, -0.80, -0.82),
    (67.38, -0.57, -0.59), (67.95, 0.0, -0.02), (68.53, 0.57, 0.55), (69.1, 0.80, 0.78),
    (69.68, 0.56, 0.54), (70.25, -0.02, -0.04), (70.83, -0.60, -0.62), (71.4, -0.84, -0.86),
    (72.05, -0.59, -0.61), (72.7, 0.02, 0.0), (73.35, 0.63, 0.61), (74.0, 0.88, 0.86),
    (74.63, 0.63, 0.61), (75.25, 0.01, -0.01), (75.88, -0.61, -0.63), (76.5, -0.86, -0.88),
    (77.13, -0.60, -0.62), (77.75, 0.05, 0.03), (78.38, 0.70, 0.68), (79.0, 0.96, 0.94),
    (79.5, 0.85, 0.83), (80.0, 0.5, 0.48)]

alpha_b_ref = [(0, 44), (1.5, 34), (4.1, 58), (7.2, 37), (10.1, 56), (13, 37), (15.8, 53), (18.7, 37),
               (22.9, 52), (27.3, 37.5), (33, 53.5), (39.3, 37.5), (43.1, 50), (47, 41), (49, 60),
               (50.4, 90), (51.9, 110), (53.6, 132), (55.4, 130), (56.8, 119), (59.2, 142), (62.0, 127),
               (64.8, 142), (67.7, 128), (70.5, 143), (73.1, 130), (75.4, 142), (77.7, 128), (80, 140)]
alpha_b_svcs = [(0, 46), (1.5, 35), (4.1, 59), (7.2, 38), (10.1, 57), (13, 38), (15.8, 54), (18.7, 38),
                (22.9, 52.6), (27.3, 38.4), (33, 54), (39.3, 38), (43.1, 51), (47, 41), (49, 61),
                (50.4, 92), (51.9, 111), (53.6, 133), (55.4, 130), (56.8, 120), (59.4, 142),
                (62.3, 126.5), (65.1, 142), (68, 128), (70.8, 142), (73.6, 129), (77.7, 142), (80, 123)]
alpha_b_cbnc = [(0, 45), (2.1, 36), (4.4, 58), (7.2, 38), (10.1, 57), (13.5, 38), (16, 71), (17.9, 57),
                (18.7, 50), (21.3, 82), (22.9, 38.6), (24.4, 60), (25.3, 38), (26.1, 33), (27.5, 38),
                (29.3, 30), (30.7, 38), (33, 40), (36.4, 40), (39.3, 40), (41.6, 57), (43.3, 51),
                (45.6, 47), (47, 49), (48.5, 53), (49.6, 61), (51.3, 57.5), (53.1, 64), (54.8, 68),
                (56.5, 71), (58.2, 74), (59.9, 75), (61.1, 80), (62.8, 96), (64.5, 119), (65.7, 133),
                (66.8, 130), (68, 140), (70.3, 147), (72, 137), (73.7, 137), (75.4, 140), (77.1, 142),
                (78.3, 137), (80, 140)]

thb_ref = [
    30, -10, 15, -20, -35, 10, -5, 18, -12, 8, -3, 15, -8, 5, -15, 12, 0, -37, 10, -5,
    8, -12, 5, -6, 10, 2, -8, 12, 4, 0, 6, 8, 10, 12, 13, 14, 15, 16, 17, 18,
    18, 19, 19.5, 20, 21, 21, 22, 22.5, 23, 23.5, 24, 24, 24.5, 25, 25, 25.5, 26, 25, 26, 25,
    26, 25.5, 26, 25, 26, 25, 26, 25.5, 25, 26, 24, 25, 25, 24, 25, 22, 12, 2, -5, 5,
    -8, 3, 8, -6, 5, 10, -4, 2, 8, -10, 0, 6, -12, 4, -22, -5, -15, 3, -6, 2,
    -4, 5, -8, 3, 0, -6, 6, -3, 2, -9, 4, -2, -7, 1, -5, 3, -8, -2, -10, 0,
    -6, -12, -4, -15, -8, 0, -14, -6, -10, -18, -5, -12, -20, -8, -15, -22, -10, -16, -6, -19,
    -12, -24, -9, -18, -14, -22, -8, -17, -25, -12, -20, -6, -18, -24, -10, -19, -15, -27, -8, -20,
    -22]
thb_svcs = [
    40, 5, -20, 15, -28, 10, 20, -15, 8, -22, 12, -5, 18, -12, 2, 15, -20, 8, -10, 12,
    -15, 10, -5, 8, 0, 5, 10, 12, 13, 14, 15, 15.5, 16, 17, 17, 18, 18, 18.5, 18, 18.5,
    18.5, 19, 19, 19.5, 20, 20.5, 21, 21.5, 22, 22, 22.5, 23, 23, 23.5, 24, 24, 24.5, 25, 25, 25,
    25.5, 25, 26, 25, 25.5, 26, 25, 26, 24.5, 25, 26, 24, 25, 23, 25, 20, 8, -4, 6, -8,
    4, -10, 8, -2, 6, -14, 2, 9, -6, 4, -12, 5, -18, 0, -8, -30, -10, 3, -6, 4,
    -8, 2, -12, 5, -5, -14, 0, -10, 3, -8, -16, -2, -12, -6, -18, -4, -10, -15, -3, -12,
    -18, -8, -14, -22, -6, -16, -10, -20, -12, -25, -8, -18, -14, -22, -10, -24, -16, -12, -26, -15,
    -20, -28, -14, -22, -18, -26, -12, -24, -20, -30, -16, -22, -10, -26, -18, -24, -14, -28, -20, 10,
    -25]
thb_cbnc = [
    10, -15, 5, 12, -8, 15, -5, 8, -12, 10, 3, -6, 12, -10, 5, 8, -14, 6, -3, 10,
    -8, 5, 12, -4, 8, 2, 10, 19.6, 28, 34, 25, 16, 10.7, 5, -1.8, 2, 5, 6, 7, 20,
    36, 39, 33, 27, 18, 8, 2, -1.8, 25, 43, 32, 18, 1.8, 25, 43.6, 38, 32, 35, 37, 39,
    37, 35, 32, 30, 30, 29, 28.6, 29, 28.6, 28, 28.6, 28, 27, 26, 25, 25, 26, 25, 18, 10.7,
    6, 3.6, 5, 3, 6, 5.4, 2, 4, 1.8, 0, 3, 1, 0, -2, 2, 0, 1, 3, 0, 3.6,
    3.6, 2, -1.8, 0, 3, -1.8, 0, 2, 1, -1, 0, 2, 0, 4, 8, 10.7, 5, 3.6, 9, 5,
    3.6, 6, 9, 7, 4, 2, 0, 0, 2, 3, 3.6, -10, -32, -28, -23, -24, -26, -27, -28, -30,
    -31, -32, -31, -30, -29, -28.6, -27, -26, -25, -23, -24, -26, -27, -25, -22, -18, -16, -20, -25, -28.6,
    -28.6]

yb_svcs = [
    0.25, 0.33, 0.22, 0.13, 0.2, 0.28, 0.31, 0.35, 0.3, 0.28, 0.24, 0.2, 0.17, 0.16, 0.2, 0.24, 0.28, 0.32, 0.36, 0.34,
    0.3, 0.25, 0.21, 0.19, 0.17, 0.16, 0.2, 0.25, 0.29, 0.32, 0.34, 0.3, 0.25, 0.22, 0.21, 0.22, 0.21, 0.22, 0.215, 0.22,
    0.22, 0.215, 0.22, 0.21, 0.22, 0.215, 0.21, 0.22, 0.205, 0.215, 0.21, 0.2, 0.215, 0.205, 0.21, 0.2, 0.212, 0.198, 0.21, 0.2,
    0.21, 0.19, 0.205, 0.185, 0.2, 0.18, 0.21, 0.19, 0.2, 0.175, 0.205, 0.19, 0.215, 0.2, 0.21, 0.195, 0.22, 0.2, 0.225, 0.21,
    0.235, 0.22, 0.245, 0.23, 0.25, 0.235, 0.26, 0.245, 0.255, 0.24, 0.25, 0.245, 0.24, 0.235, 0.23, 0.22, 0.21, 0.2, 0.22, 0.25,
    0.28, 0.31, 0.33, 0.29, 0.24, 0.2, 0.19, 0.21, 0.24, 0.26, 0.28, 0.3, 0.31, 0.32, 0.33, 0.28, 0.22, 0.18, 0.16, 0.2,
    0.24, 0.27, 0.28, 0.25, 0.23, 0.26, 0.29, 0.3, 0.22, 0.13, 0.2, 0.28, 0.32, 0.3, 0.22, 0.14, 0.08, 0.2, 0.33, 0.38,
    0.42, 0.44, 0.3, 0.18, 0.1, 0.25, 0.38, 0.44, 0.2, 0.02, 0.15, 0.32, 0.43, 0.3, 0.12, 0.0, 0.1, 0.3, 0.38, 0.45,
    0.42]
yb_cbnc = [
    0.24, 0.3, 0.2, 0.14, 0.22, 0.29, 0.32, 0.33, 0.28, 0.25, 0.22, 0.19, 0.17, 0.18, 0.22, 0.26, 0.31, 0.35, 0.39, 0.36,
    0.31, 0.26, 0.22, 0.2, 0.18, 0.2, 0.24, 0.28, 0.33, 0.3, 0.35, 0.33, 0.28, 0.3, 0.32, 0.26, 0.28, 0.22, 0.24, 0.12,
    0.02, 0.2, 0.3, 0.32, 0.28, 0.33, 0.25, 0.3, 0.1, 0.2, 0.3, 0.33, 0.27, 0.25, 0.23, 0.24, 0.22, 0.23, 0.22, 0.225,
    0.22, 0.225, 0.215, 0.22, 0.215, 0.22, 0.21, 0.215, 0.22, 0.21, 0.215, 0.22, 0.21, 0.22, 0.215, 0.21, 0.22, 0.215, 0.22, 0.225,
    0.23, 0.24, 0.25, 0.255, 0.26, 0.27, 0.265, 0.26, 0.255, 0.25, 0.26, 0.255, 0.25, 0.24, 0.235, 0.23, 0.225, 0.22, 0.23, 0.25,
    0.27, 0.29, 0.3, 0.27, 0.23, 0.21, 0.2, 0.22, 0.25, 0.27, 0.28, 0.29, 0.3, 0.31, 0.32, 0.27, 0.22, 0.19, 0.18, 0.2,
    0.23, 0.26, 0.27, 0.3, 0.28, 0.26, 0.27, 0.25, 0.22, 0.2, 0.18, 0.12, 0.1, 0.25, 0.3, 0.35, 0.3, 0.25, 0.15, 0.05,
    0.2, 0.4, 0.44, 0.49, 0.35, 0.25, 0.1, 0.2, 0.35, 0.45, 0.51, 0.3, 0.15, 0.0, 0.1, 0.25, 0.38, 0.3, 0.2, 0.32,
    0.38]

u2b_cbnc = [
    0.5, 3.15, 3.15, -1, -3.15, 3.15, 3.15, -3.15, 3.15, -2, -3.15, 3.15, -1, -3.15, 1, 3.15, -3.15, -1, 3.15, -3.15,
    0, 2, -3.15, 1.5, 3.15, -2, 1, -3.15, 3.15, 0, -3.15, 3.15, -2, 3.15, -3.15, 1, -3.15, 3.15, -1, -3.15,
    3.15, 3.15, -1, 3.15, -2.5, 2, -0.5, -3.15, -0.5, 0.2, 0.3, 0.1, 0.2, -0.2, 0.0, 0.4, 0.1, -0.3, 0.3, 0.1,
    0.2, 0.0, 0.5, 0.8, 1.2, -0.5, 0.8, 0.3, 0.3, 1.5, 0.0, -1.2, 0.5, 0.2, -0.3, -1.5, -3.15, -2.0, 3.15, 3.15,
    -3.15, 3.15, -2, 3.15, -3.15, 3.15, 0, 3.15, -3.15, 3.15, -1, 3.15, -3.15, 3.15, -3.15, 3.15, -2, 3.15, -3.15, 3.15,
    -3.15, 3.15, -3.15, 3.15, -2, 3.15, -3.15, 3.15, -1, 3.15, -3.15, 3.15, -2, 2, -3.15, 3.15, -1, 1.5, -3.15, 0,
    0, 1, -0.5, 0.5, -2, 0.3, -3.15, 0.5, 1, -0.5, -1, 0, 0.5, -1, -1.5, -0.5, 0.5, -2.5, 0, 1,
    0.5, -2, 0, 1, 0.5, 3.15, 3.15, 1, 2.5, 0, -0.5, -1, 1, -1.2, -0.3, -2.8, 0, 0.5, -0.5, 0.3,
    0.3]
u2b_svcs = [
    0.5, 2.2, -1.0, 1.5, -1.8, 0.8, 1.6, -1.5, 0.5, -1.2, 1.8, -0.8, 1.2, -1.6, 0.6, 1.4, -1.0, 0.8, -1.4, 1.2,
    -0.8, 1.0, -1.2, 0.6, -0.5, 0.8, -0.6, 0.4, 0.7, -0.4, 0.3, -0.5, 0.4, 0.2, -0.3, 0.3, -0.2, 0.1, 0.3, -0.2,
    0.2, -0.1, 0.1, 0.2, -0.2, 0.0, 0.1, -0.1, 0.2, 0.0, -0.2, 0.1, 0.0, 0.2, -0.1, 0.1, 0.0, -0.2, 0.1, 0.2,
    -0.1, 0.1, 0.0, -0.2, 0.2, 0.1, -0.1, 0.3, -0.2, 0.1, 0.2, -0.3, 0.3, 0.0, -0.2, 0.4, 0.1, -0.3, 0.5, 1.2,
    1.8, -1.0, 1.2, -0.8, 0.6, -1.2, 1.0, -0.6, 0.8, -1.0, 0.5, 1.2, -0.8, 0.6, -3.3, 0.5, -0.8, 1.0, -0.5, 0.6,
    -0.6, 0.8, -0.4, 0.5, -0.8, 0.6, -0.3, 0.4, -0.5, 0.3, 0.6, -0.4, 0.5, -0.2, 0.3, -0.5, 0.4, -0.3, 0.2, 0.5,
    -0.3, 0.2, 0.4, -0.2, 0.3, -0.4, 0.5, 0.0, -0.3, 0.4, -0.2, 0.3, 0.6, -0.4, 0.2, -0.3, 0.5, -0.1, 0.3, -0.5,
    0.4, -0.3, 0.6, -0.2, 0.5, -0.6, 0.3, 0.8, -0.4, 0.2, -0.7, 0.5, 0.3, -0.5, 0.6, -0.8, 0.2, -0.4, 0.5, -0.6,
    0.2]

# shaded intervals (s)
pink_spans = [(0, 10), (44.7, 55.7)]
green_span = (44.5, 56.0)

BLUE = '#0000ff'
RED = '#ff0000'
CYAN = '#55d8f2'
PINK = (1.0, 0.6, 0.6)
GREEN = (0.57, 0.92, 0.41)
SPINE = '#333333'


def pairs(p):
    a = np.asarray(p, dtype=float)
    return a[:, 0], a[:, 1]


def sampled(v):
    return np.arange(len(v)) * 0.5, np.asarray(v, dtype=float)


def ref_line(ax, p):
    x, y = pairs(p)
    ax.plot(x, y, color='k', lw=2.0, dashes=(6, 3.5), zorder=4)


def cbnc_line(ax, x, y):
    ax.plot(x, y, color=BLUE, lw=1.7, zorder=2)


def svcs_line(ax, x, y):
    ax.plot(x, y, color=RED, lw=2.0, zorder=3)


def shade_pink(ax):
    for a, b in pink_spans:
        ax.axvspan(a, b, color=PINK, alpha=0.5, lw=0, zorder=5)


def style(ax, ylim, yticks, ylabel, bottom=False):
    ax.set_xlim(0, 80)
    ax.set_ylim(*ylim)
    ax.set_xticks([0, 20, 40, 60, 80])
    ax.set_yticks(yticks)
    ax.yaxis.set_major_formatter(FuncFormatter(lambda v, p: '%g' % v))
    ax.grid(True, color='#d9d9d9', lw=0.9)
    ax.set_axisbelow(True)
    ax.tick_params(direction='in', length=3, width=0.8, labelsize=14.5,
                   colors=SPINE, labelcolor='#222222')
    ax.tick_params(axis='y', pad=3)
    ax.tick_params(axis='x', pad=7)
    for s in ax.spines.values():
        s.set_linewidth(1.4)
        s.set_color(SPINE)
    ax.set_ylabel(ylabel, fontsize=16, labelpad=2, color='#222222')
    if bottom:
        ax.set_xlabel('Time (s)', fontsize=16, labelpad=5, color='#222222')
    else:
        ax.tick_params(labelbottom=False)


def wave_legend(ax, loc, anchor):
    h = [Line2D([], [], color=CYAN, lw=3), Line2D([], [], color='k', lw=1.2, ls=':'),
         Line2D([], [], color=RED, lw=3), Line2D([], [], color=BLUE, lw=1.2)]
    lab = [r'SVCS: $\zeta\,(x_\mathrm{b})$', r'CBNC:$\zeta\,(x_\mathrm{b})$',
           r'$\mathrm{z_b}$', r'$\mathrm{z_b}$']
    leg = ax.legend(h, lab, ncol=2, loc=loc, bbox_to_anchor=anchor, markerfirst=False,
                    fontsize=8.5, handlelength=1.5, handletextpad=0.3, columnspacing=0.7,
                    borderpad=0.25, labelspacing=0.25, borderaxespad=0.1,
                    fancybox=False, edgecolor='k', framealpha=1)
    leg.get_frame().set_linewidth(0.8)
    leg.set_zorder(10)


fig = plt.figure(figsize=(6.73, 12.15), dpi=100)
W, H = 673.0, 1215.0
COLS = [(82, 231), (407, 233)]
ROW_H = 95
ROWS = {'a': [34, 133, 234, 337, 437], 'b': [631, 731, 830, 933, 1033]}


def make_ax(col, top):
    x0, w = COLS[col]
    return fig.add_axes([x0 / W, 1 - (top + ROW_H) / H, w / W, ROW_H / H])


for case in ('a', 'b'):
    tops = ROWS[case]
    A = case == 'a'

    # ---- left column ----
    ax = make_ax(0, tops[0])
    cbnc_line(ax, *pairs(Va_cbnc if A else Vb_cbnc))
    svcs_line(ax, *pairs(Va_svcs if A else Vb_svcs))
    ref_line(ax, Va_ref if A else Vb_ref)
    shade_pink(ax)
    style(ax, (-5.6, 5.65) if A else (-5.5, 5.8), [-5, -2.5, 0, 2.5, 5], r'$V$ (m/s)')

    ax = make_ax(0, tops[1])
    cbnc_line(ax, *pairs(ra_cbnc if A else rb_cbnc))
    svcs_line(ax, *pairs(ra_svcs if A else rb_svcs))
    ref_line(ax, ra_ref if A else rb_ref)
    shade_pink(ax)
    style(ax, (3.83, 7.4) if A else (3.85, 7.32), [4, 5, 6, 7], r'$r$ (m)')

    ax = make_ax(0, tops[2])
    cbnc_line(ax, *pairs(zua_cbnc if A else zub_cbnc))
    svcs_line(ax, *pairs(zua_svcs if A else zub_svcs))
    ref_line(ax, zua_ref if A else zub_ref)
    shade_pink(ax)
    style(ax, (1.9, 8.1) if A else (1.9, 8.0), [3, 5, 7], r'$z_\mathrm{u}$ (m)')

    ax = make_ax(0, tops[3])
    cbnc_line(ax, *pairs(Ta_cbnc if A else Tb_cbnc))
    svcs_line(ax, *sampled(Ta_svcs if A else Tb_svcs))
    ref_line(ax, Ta_ref if A else Tb_ref)
    shade_pink(ax)
    style(ax, (-5, 35) if A else (-6.5, 85.5), [0, 15, 30] if A else [0, 40, 80], r'$T$ (N)')

    ax = make_ax(0, tops[4])
    cbnc_line(ax, *sampled(u1ca_cbnc if A else u1cb_cbnc))
    svcs_line(ax, *sampled(u1ca_svcs if A else u1cb_svcs))
    shade_pink(ax)
    style(ax, (7, 73) if A else (5.5, 111), [10, 30, 50, 70] if A else [10, 40, 70, 100],
          r'u$_\mathrm{1c}$ (N)', bottom=True)

    # ---- right column ----
    ax = make_ax(1, tops[0])
    if A:
        x, y = pairs(za_zeta_svcs)
        ax.plot(x, y, color=CYAN, lw=4, zorder=2)
        x, y = pairs(za_zb_cbnc)
        ax.plot(x, y, color=BLUE, lw=1.2, zorder=3)
        x, y = pairs(za_zeta_cbnc)
        ax.plot(x, y, color='k', lw=1.2, ls=':', zorder=4)
        x, y = pairs(za_zb_svcs)
        ax.plot(x, y, color=RED, lw=2.0, zorder=3)
        wave_legend(ax, 'upper right', (0.985, 0.985))
        style(ax, (-0.98, 1.05), [-0.75, 0, 0.75], r'$z$ (m)')
    else:
        ws = np.asarray(wave_svcs_b, dtype=float)
        wc = np.asarray(wave_cbnc_b, dtype=float)
        ax.plot(ws[:, 0], ws[:, 2], color=CYAN, lw=2.6, zorder=2)
        ax.plot(wc[:, 0], wc[:, 1], color=BLUE, lw=1.2, zorder=3)
        ax.plot(wc[:, 0], wc[:, 2], color='k', lw=1.2, ls=':', zorder=4)
        ax.plot(ws[:, 0], ws[:, 1], color=RED, lw=2.0, zorder=5)
        wave_legend(ax, 'lower right', (0.985, 0.955))
        style(ax, (-1.0, 1.0), [-0.75, 0, 0.75], r'$z$ (m)')

    ax = make_ax(1, tops[1])
    cbnc_line(ax, *pairs(alpha_a_cbnc if A else alpha_b_cbnc))
    svcs_line(ax, *pairs(alpha_a_svcs if A else alpha_b_svcs))
    ref_line(ax, alpha_a_ref if A else alpha_b_ref)
    ax.axvspan(*green_span, color=GREEN, alpha=0.5, lw=0, zorder=5)
    style(ax, (26, 160) if A else (28, 158), [45, 90, 135], r'$\alpha$ (°)')

    ax = make_ax(1, tops[2])
    cbnc_line(ax, *sampled(tha_cbnc if A else thb_cbnc))
    svcs_line(ax, *sampled(tha_svcs if A else thb_svcs))
    x, y = sampled(tha_ref if A else thb_ref)
    ax.plot(x, y, color='k', lw=2.0, zorder=4)
    style(ax, (-51, 51) if A else (-51, 52), [-40, 0, 40], r'$\theta_\mathrm{u}$ (°)')

    ax = make_ax(1, tops[3])
    if A:
        cbnc_line(ax, *pairs(ya_cbnc))
        svcs_line(ax, *sampled(ya_svcs))
        style(ax, (0.1, 0.405), [0.15, 0.25, 0.35], r'$\Upsilon_\mathrm{im}$ / $\Upsilon_\mathrm{b}$')
    else:
        cbnc_line(ax, *sampled(yb_cbnc))
        svcs_line(ax, *sampled(yb_svcs))
        style(ax, (-0.05, 0.563), [0, 0.25, 0.5], r'$\Upsilon_\mathrm{im}$ / $\Upsilon_\mathrm{b}$')

    ax = make_ax(1, tops[4])
    cbnc_line(ax, *sampled(u2a_cbnc if A else u2b_cbnc))
    svcs_line(ax, *sampled(u2a_svcs if A else u2b_svcs))
    style(ax, (-3.45, 3.55) if A else (-3.55, 3.55), [-3, 0, 3], r'u$_\mathrm{2c}$ (N.m)', bottom=True)

# top legend
handles = [Line2D([], [], color='k', lw=2.4, dashes=(2.2, 1.8)),
           Line2D([], [], color=BLUE, lw=2.0),
           Line2D([], [], color=RED, lw=2.4)]
leg = fig.legend(handles, ['Reference', 'CBNC', 'SVCS'], loc='upper center',
                 bbox_to_anchor=(0.507, 1.0), ncol=3, markerfirst=False, fontsize=12.5,
                 handlelength=1.7, handletextpad=0.5, columnspacing=1.0, borderpad=0.15,
                 borderaxespad=0.0, fancybox=False, edgecolor=SPINE, framealpha=1)
leg.get_frame().set_linewidth(1.2)

fig.text(0.513, 1 - 604 / H, '(a) case 1: gust and current only.', ha='center', va='center',
         fontsize=16.5, color='#222222')
fig.text(0.532, 1 - 1198 / H, '(b) case 2: gust, current and waves.', ha='center', va='center',
         fontsize=16.5, color='#222222')

fig.savefig('out.png', dpi=100)
